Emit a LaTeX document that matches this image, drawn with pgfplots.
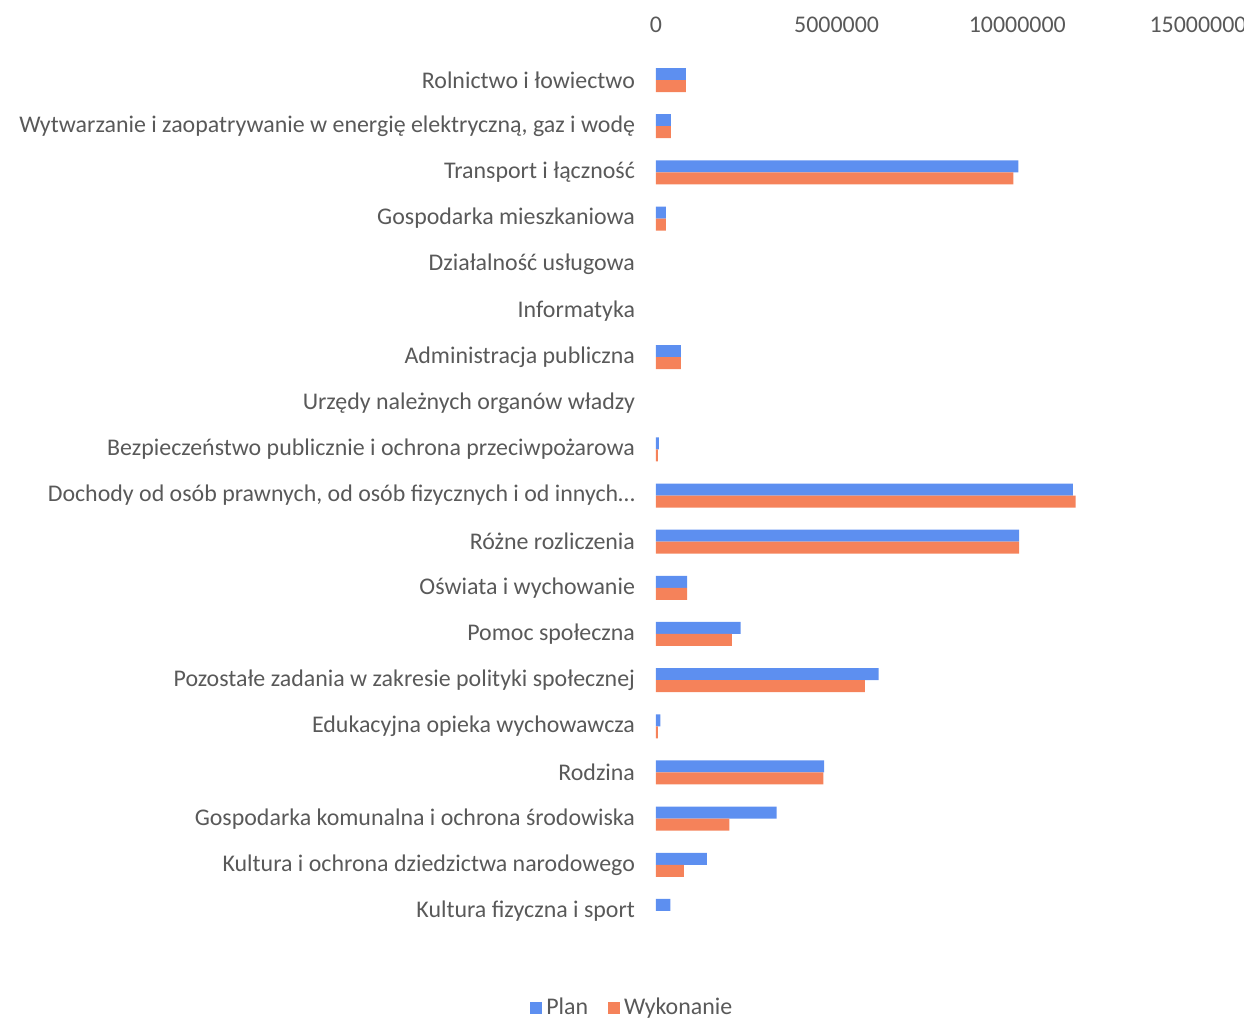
\documentclass[border=0pt]{standalone}
\usepackage{pgfplots}
\pgfplotsset{compat=1.18}
\usepackage{fontspec}
\setmainfont{Carlito}
\definecolor{planc}{RGB}{93,143,240}
\definecolor{wykc}{RGB}{245,130,90}
\definecolor{txt}{RGB}{89,89,89}
\begin{document}
\begin{tikzpicture}[x=1bp,y=1bp]
\useasboundingbox (-328,28.5) rectangle (294,-481.5);
\begin{axis}[
  at={(0,0)}, anchor=north west,
  scale only axis, width=271bp, height=438.5bp,
  xbar, bar width=6bp,
  xmin=0, xmax=15000000,
  ymin=-0.5, ymax=18.5, y dir=reverse,
  axis line style={draw=none},
  major tick length=0pt,
  xtick={0,5000000,10000000,15000000},
  xticklabel pos=upper,
  xticklabels={0,5000000,10000000,15000000},
  scaled x ticks=false,
  ytick={0,...,18},
  yticklabels={Rolnictwo i łowiectwo,
    {Wytwarzanie i zaopatrywanie w energię elektryczną, gaz i wodę},
    Transport i łączność, Gospodarka mieszkaniowa, Działalność usługowa,
    Informatyka, Administracja publiczna, Urzędy należnych organów władzy,
    Bezpieczeństwo publicznie i ochrona przeciwpożarowa,
    {Dochody od osób prawnych, od osób fizycznych i od innych…},
    Różne rozliczenia, Oświata i wychowanie, Pomoc społeczna,
    Pozostałe zadania w zakresie polityki społecznej,
    Edukacyjna opieka wychowawcza, Rodzina,
    Gospodarka komunalna i ochrona środowiska,
    Kultura i ochrona dziedzictwa narodowego, Kultura fizyczna i sport},
  tick label style={font=\fontsize{12}{14}\selectfont, text=txt},
  yticklabel style={xshift=-7bp},
  xticklabel style={yshift=8.5bp},
  legend style={draw=none, at={(-0.042,-0.084)}, anchor=center,
    legend columns=2, font=\fontsize{12}{14}\selectfont, text=txt,
    /tikz/every even column/.append style={column sep=8bp}},
  legend image code/.code={\fill[#1] (0bp,-3bp) rectangle (6bp,3bp);},
]
\addplot[fill=planc, draw=none, bar shift=3bp] coordinates {
(830000,0) (415000,1) (10030000,2) (270000,3) (690000,6)
(80000,8) (11540000,9) (10050000,10) (860000,11) (2340000,12) (6160000,13)
(120000,14) (4650000,15) (3340000,16) (1410000,17) (400000,18)};
\addplot[fill=wykc, draw=none, bar shift=-3bp] coordinates {
(830000,0) (415000,1) (9890000,2) (270000,3) (690000,6)
(50000,8) (11610000,9) (10050000,10) (860000,11) (2100000,12) (5780000,13)
(55000,14) (4630000,15) (2030000,16) (770000,17)};
\legend{Plan, Wykonanie}
\end{axis}
\end{tikzpicture}
\end{document}
